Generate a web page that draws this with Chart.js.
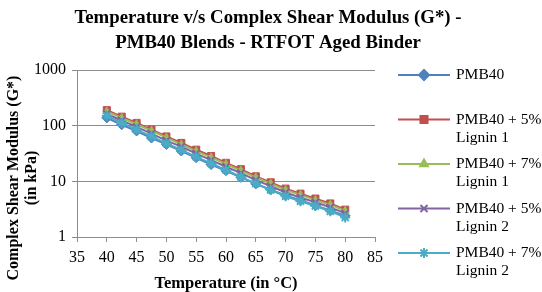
<!DOCTYPE html>
<html>
<head>
<meta charset="utf-8">
<script src="https://cdn.jsdelivr.net/npm/chart.js@4.4.0/dist/chart.umd.min.js"></script>
<style>
  body { margin: 0; background: #fff; }
  #wrap { width: 542px; height: 292px; }
</style>
</head>
<body>
<div id="wrap"><canvas id="chart" width="542" height="292"></canvas></div>
<script>
// temperatures in °C
const temps = [40, 42.5, 45, 47.5, 50, 52.5, 55, 57.5, 60, 62.5, 65, 67.5, 70, 72.5, 75, 77.5, 80];

// G* in kPa
const pmb40     = [138, 104, 80, 60, 46, 35, 26.5, 20, 15.5, 11.8, 9.0, 7.1, 5.6, 4.6, 3.7, 3.0, 2.4];
const lignin1_5 = [190, 145, 112, 85, 64, 49, 37, 28.5, 21.5, 16.5, 12.3, 9.6, 7.4, 6.0, 4.9, 4.0, 3.1];
const lignin1_7 = [180, 138, 106, 81, 61, 46, 35, 27, 20.5, 15.6, 11.7, 9.1, 7.0, 5.7, 4.6, 3.8, 2.95];
const lignin2_5 = [162, 124, 95, 72, 54, 42, 31.5, 24, 18.3, 14, 10.5, 8.2, 6.3, 5.1, 4.2, 3.4, 2.65];
const lignin2_7 = [150, 112, 85, 64, 48, 36.5, 27.5, 21, 16, 12, 9.1, 7.0, 5.4, 4.4, 3.6, 2.9, 2.25];

const xTicks = [35, 40, 45, 50, 55, 60, 65, 70, 75, 80, 85];
const yTicks = [1, 10, 100, 1000];

const titleLines = ['Temperature v/s Complex Shear Modulus (G*) -', 'PMB40 Blends - RTFOT Aged Binder'];
const yTitleLines = ['Complex Shear Modulus (G*)', '(in kPa)'];
const legendLabels = [
  ['PMB40'],
  ['PMB40 + 5%', 'Lignin 1'],
  ['PMB40 + 7%', 'Lignin 1'],
  ['PMB40 + 5%', 'Lignin 2'],
  ['PMB40 + 7%', 'Lignin 2']
];

const serif = "'Liberation Serif', 'DejaVu Serif', serif";
const gray = '#8c8c8c';

function series(label, vals, color, style, r, order) {
  return {
    label: label,
    data: temps.map((t, i) => ({ x: t, y: vals[i] })),
    borderColor: color,
    backgroundColor: color,
    pointBorderColor: color,
    pointBackgroundColor: color,
    borderWidth: 2,
    pointStyle: style,
    pointRadius: r,
    pointBorderWidth: style === 'crossRot' || style === 'star' ? 2 : 1,
    order: order
  };
}

const datasets = [
  series('PMB40', pmb40, '#4F81BD', 'rectRot', 5, 5),
  series('PMB40 + 5% Lignin 1', lignin1_5, '#C0504D', 'rect', 5, 4),
  series('PMB40 + 7% Lignin 1', lignin1_7, '#9BBB59', 'triangle', 4.5, 3),
  series('PMB40 + 5% Lignin 2', lignin2_5, '#8064A2', 'crossRot', 5, 2),
  series('PMB40 + 7% Lignin 2', lignin2_7, '#4BACC6', 'star', 5, 1)
];

// title, y title and legend drawn by hand (centred on the whole canvas, wrapped labels)
const extras = {
  id: 'extras',
  afterDraw(chart) {
    const ctx = chart.ctx;
    ctx.save();
    ctx.fillStyle = '#000';
    ctx.textAlign = 'center';
    ctx.textBaseline = 'middle';

    ctx.font = 'bold 18.8px ' + serif;
    ctx.fillText(titleLines[0], 268, 18);
    ctx.fillText(titleLines[1], 268, 43);

    ctx.save();
    ctx.translate(14, 178);
    ctx.rotate(-Math.PI / 2);
    ctx.font = 'bold 16px ' + serif;
    ctx.fillText(yTitleLines[0], 0, 0);
    ctx.fillText(yTitleLines[1], 0, 18);
    ctx.restore();

    datasets.forEach((ds, i) => {
      const y = 75 + i * 44.5;
      ctx.strokeStyle = ds.borderColor;
      ctx.lineWidth = 2;
      ctx.beginPath();
      ctx.moveTo(398, y);
      ctx.lineTo(450, y);
      ctx.stroke();
      ctx.fillStyle = ds.backgroundColor;
      Chart.helpers.drawPoint(ctx, {
        pointStyle: ds.pointStyle,
        radius: ds.pointRadius,
        rotation: 0,
        borderWidth: ds.pointBorderWidth
      }, 424, y);
      ctx.fillStyle = '#000';
      ctx.font = '15.5px ' + serif;
      ctx.textAlign = 'left';
      legendLabels[i].forEach((line, j) => {
        ctx.fillText(line, 456, y + j * 18);
      });
    });
    ctx.restore();
  }
};

new Chart(document.getElementById('chart'), {
  type: 'line',
  data: { datasets: datasets },
  options: {
    responsive: false,
    animation: false,
    layout: { padding: { left: 0, right: 167, top: 70, bottom: 0 } },
    plugins: {
      legend: { display: false },
      tooltip: { enabled: false },
      title: { display: false }
    },
    scales: {
      x: {
        type: 'linear',
        min: 35,
        max: 85,
        afterBuildTicks: s => { s.ticks = xTicks.map(v => ({ value: v })); },
        afterFit: s => { s.height = 55; },
        grid: { drawOnChartArea: false, drawTicks: true, tickLength: 5, color: gray },
        border: { color: gray, width: 1 },
        ticks: { color: '#000', font: { family: serif, size: 16 }, padding: 6 },
        title: {
          display: true,
          text: 'Temperature (in °C)',
          color: '#000',
          font: { family: serif, size: 16.5, weight: 'bold', lineHeight: 1 },
          padding: { top: 0, bottom: 0 }
        }
      },
      y: {
        type: 'logarithmic',
        min: 1,
        max: 1000,
        afterBuildTicks: s => { s.ticks = yTicks.map(v => ({ value: v })); },
        afterFit: s => { s.width = 77; },
        grid: { color: gray, tickLength: 5, tickColor: gray },
        border: { color: gray, width: 1 },
        ticks: {
          color: '#000',
          font: { family: serif, size: 16 },
          padding: 6,
          callback: v => String(v)
        }
      }
    }
  },
  plugins: [extras]
});
</script>
</body>
</html>
